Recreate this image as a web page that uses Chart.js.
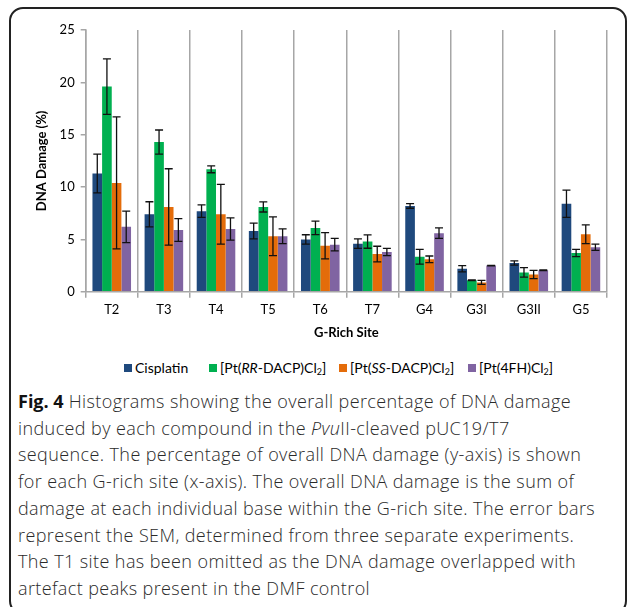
<!DOCTYPE html>
<html>
<head>
<meta charset="utf-8">
<script src="https://cdn.jsdelivr.net/npm/chart.js@4.4.1/dist/chart.umd.min.js"></script>
<style>
  body { margin: 0; background: #fff; width: 627px; height: 607px; overflow: hidden; position: relative; }
  #frame { position: absolute; left: 9px; top: 7px; width: 614px; height: 604px; border: 2px solid #222; border-radius: 14px; }
  #chartBox { position: absolute; left: 0; top: 0; width: 627px; height: 349px; }
  #legend { position: absolute; top: 359px; left: 0; width: 627px; height: 20px; font-family: Lato, sans-serif; font-size: 14px; color: #000; }
  #legend span.item { position: absolute; top: 0; white-space: nowrap; }
  #legend i.sw { display: inline-block; width: 8px; height: 8px; margin-right: 3px; vertical-align: 1px; }
  #legend sub { font-size: 9px; vertical-align: -2px; }
  #caption { position: absolute; left: 18px; top: 388px; width: 605px; font-family: "Open Sans", sans-serif; font-weight: 300; font-size: 18px; letter-spacing: 0.4px; line-height: 26.7px; color: #2a2a2a; white-space: nowrap; }
  #caption b { color: #111; font-weight: 700; letter-spacing: 0; }
</style>
</head>
<body>
<div id="frame"></div>
<div id="chartBox"><canvas id="damageChart"></canvas></div>
<div id="legend"></div>
<div id="caption">
<b>Fig. 4</b> Histograms showing the overall percentage of DNA damage<br>
induced by each compound in the <i>Pvu</i>II-cleaved pUC19/T7<br>
sequence. The percentage of overall DNA damage (y-axis) is shown<br>
for each G-rich site (x-axis). The overall DNA damage is the sum of<br>
damage at each individual base within the G-rich site. The error bars<br>
represent the SEM, determined from three separate experiments.<br>
The T1 site has been omitted as the DNA damage overlapped with<br>
artefact peaks present in the DMF control
</div>
<script>
// ==============================
// Data
// ==============================
const sites = ['T2', 'T3', 'T4', 'T5', 'T6', 'T7', 'G4', 'G3I', 'G3II', 'G5'];
const yTicks = [0, 5, 10, 15, 20, 25];

const cisplatin    = [11.3, 7.4, 7.7, 5.8, 5.0, 4.6, 8.2, 2.2, 2.75, 8.4];
const cisplatinErr = [1.85, 1.2, 0.6, 0.75, 0.45, 0.45, 0.22, 0.3, 0.2, 1.3];

const rrDacp    = [19.6, 14.3, 11.7, 8.1, 6.1, 4.8, 3.35, 1.1, 1.85, 3.7];
const rrDacpErr = [2.65, 1.15, 0.33, 0.48, 0.64, 0.64, 0.7, 0.03, 0.45, 0.35];

const ssDacp    = [10.4, 8.1, 7.4, 5.3, 4.4, 3.6, 3.1, 0.9, 1.65, 5.5];
const ssDacpErr = [6.3, 3.65, 2.85, 1.85, 1.25, 0.75, 0.32, 0.2, 0.4, 0.9];

const fh4    = [6.2, 5.9, 6.0, 5.3, 4.5, 3.8, 5.6, 2.5, 2.05, 4.25];
const fh4Err = [1.5, 1.08, 1.06, 0.7, 0.6, 0.35, 0.5, 0.03, 0.03, 0.3];

const seriesColors = ['#1f497d', '#00b050', '#e46c0a', '#8064a2'];
// legend labels in html, because of italics and subscripts
const legendHtml = [
    'Cisplatin',
    '[Pt(<i>RR</i>-DACP)Cl<sub>2</sub>]',
    '[Pt(<i>SS</i>-DACP)Cl<sub>2</sub>]',
    '[Pt(4FH)Cl<sub>2</sub>]'
];
const legendX = [124, 209, 339, 468];

// ==============================
// Error bar plugin
// ==============================
const errorBars = {
    id: 'errorBars',
    afterDatasetsDraw(chart) {
        const ctx = chart.ctx;
        const yScale = chart.scales.y;
        ctx.save();
        ctx.strokeStyle = '#111';
        ctx.lineWidth = 1.3;
        chart.data.datasets.forEach((ds, di) => {
            const meta = chart.getDatasetMeta(di);
            meta.data.forEach((bar, i) => {
                const v = ds.data[i], e = ds.errors[i];
                const top = yScale.getPixelForValue(v + e);
                const bot = yScale.getPixelForValue(v - e);
                const x = bar.x, cap = 4;
                ctx.beginPath();
                ctx.moveTo(x, top); ctx.lineTo(x, bot);
                ctx.moveTo(x - cap, top); ctx.lineTo(x + cap, top);
                ctx.moveTo(x - cap, bot); ctx.lineTo(x + cap, bot);
                ctx.stroke();
            });
        });
        ctx.restore();
    }
};

// ==============================
// Chart
// ==============================
const chartCtx = document.getElementById('damageChart').getContext('2d');
const damageChart = new Chart(chartCtx, {
    type: 'bar',
    data: {
        labels: sites,
        datasets: [
            { label: 'Cisplatin', data: cisplatin, errors: cisplatinErr, backgroundColor: seriesColors[0] },
            { label: '[Pt(RR-DACP)Cl2]', data: rrDacp, errors: rrDacpErr, backgroundColor: seriesColors[1] },
            { label: '[Pt(SS-DACP)Cl2]', data: ssDacp, errors: ssDacpErr, backgroundColor: seriesColors[2] },
            { label: '[Pt(4FH)Cl2]', data: fh4, errors: fh4Err, backgroundColor: seriesColors[3] }
        ]
    },
    options: {
        responsive: true,
        maintainAspectRatio: false,
        animation: false,
        datasets: { bar: { categoryPercentage: 0.74, barPercentage: 1.0 } },
        layout: { padding: { left: 34, right: 20, top: 30, bottom: 8 } },
        plugins: { legend: { display: false }, tooltip: { enabled: false } },
        scales: {
            x: {
                grid: { offset: true, color: '#a6a6a6', lineWidth: 1.5, tickLength: 6 },
                border: { color: '#a6a6a6', width: 1.5 },
                ticks: { color: '#000', font: { family: 'Lato', size: 13 }, padding: 4 },
                title: { display: true, text: 'G-Rich Site', color: '#000', font: { family: 'Lato', size: 13, weight: 'bold' }, padding: { top: 4, bottom: 0 } }
            },
            y: {
                min: 0, max: 25,
                afterBuildTicks(axis) { axis.ticks = yTicks.map(v => ({ value: v })); },
                grid: { drawOnChartArea: false, color: '#a6a6a6', lineWidth: 1.5, tickLength: 5 },
                border: { color: '#a6a6a6', width: 1.5 },
                ticks: { color: '#000', font: { family: 'Lato', size: 13 }, padding: 6 },
                title: { display: true, text: 'DNA Damage (%)', color: '#000', font: { family: 'Lato', size: 13, weight: 'bold' }, padding: { top: 0, bottom: 4 } }
            }
        }
    },
    plugins: [errorBars]
});

// ==============================
// HTML legend
// ==============================
const legendEl = document.getElementById('legend');
damageChart.data.datasets.forEach((ds, i) => {
    const item = document.createElement('span');
    item.className = 'item';
    item.style.left = legendX[i] + 'px';
    item.innerHTML = '<i class="sw" style="background:' + ds.backgroundColor + '"></i>' + legendHtml[i];
    legendEl.appendChild(item);
});
</script>
</body>
</html>
